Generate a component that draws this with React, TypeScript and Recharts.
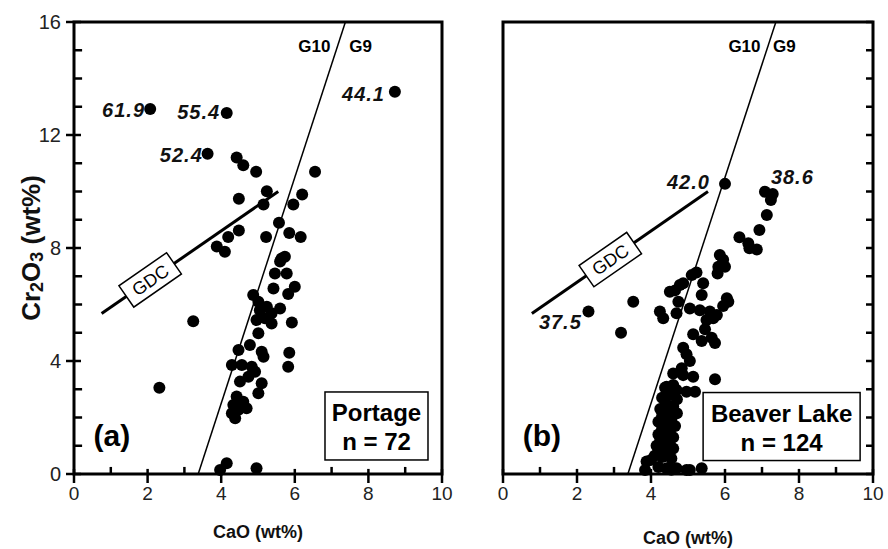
import React from "react";
import {
  ScatterChart,
  Scatter,
  XAxis,
  YAxis,
  ReferenceLine,
  ReferenceDot,
  ReferenceArea,
} from "recharts";

const FONT = '"Liberation Sans", Arial, Helvetica, sans-serif';

// tick values
const xTicks = [0, 1, 2, 3, 4, 5, 6, 7, 8, 9, 10];
const xMajor = [0, 2, 4, 6, 8, 10];
const yTicks = [0, 1, 2, 3, 4, 5, 6, 7, 8, 9, 10, 11, 12, 13, 14, 15, 16];
const yMajor = [0, 4, 8, 12, 16];

// [CaO wt%, Cr2O3 wt%]
const portagePoints = [
  [2.07, 12.92], [4.15, 12.78], [8.72, 13.53], [3.63, 11.34], [4.42, 11.2], [4.6, 10.93],
  [4.95, 10.7], [6.55, 10.7], [5.24, 10.01], [4.48, 9.74], [6.2, 9.89], [5.15, 9.54],
  [5.96, 9.54], [5.57, 8.89], [4.48, 8.62], [4.19, 8.39], [5.22, 8.39], [5.85, 8.53],
  [6.16, 8.39], [3.88, 8.05], [4.1, 7.87], [5.64, 7.63], [5.73, 7.69], [5.6, 7.52],
  [5.46, 7.1], [5.78, 7.1], [5.42, 6.57], [6.0, 6.63], [5.82, 6.37], [4.87, 6.34],
  [5.01, 6.1], [5.24, 5.92], [5.37, 5.69], [5.05, 5.8], [4.96, 5.45], [5.6, 5.86],
  [5.19, 5.51], [5.37, 5.33], [5.92, 5.36], [5.01, 4.98], [3.24, 5.41], [4.78, 4.57],
  [4.47, 4.39], [5.1, 4.33], [5.15, 4.15], [5.85, 4.29], [5.82, 3.8], [4.29, 3.86],
  [4.56, 3.86], [4.83, 3.8], [4.92, 3.62], [4.74, 3.44], [4.51, 3.27], [5.1, 3.21],
  [5.01, 2.86], [4.42, 2.74], [4.6, 2.56], [4.33, 2.44], [4.69, 2.33], [4.47, 2.27],
  [4.29, 2.15], [4.38, 1.97], [2.32, 3.05], [4.15, 0.38], [3.97, 0.14], [4.96, 0.2],
];

const beaverPoints = [
  [6.0, 10.27], [7.08, 9.99], [7.29, 9.91], [7.24, 9.7], [7.13, 9.17], [6.93, 8.64],
  [6.39, 8.38], [6.63, 8.17], [6.66, 7.99], [6.86, 7.95], [5.86, 7.75], [5.95, 7.58],
  [5.82, 7.34], [6.0, 7.34], [5.8, 7.1], [5.23, 7.13], [5.1, 7.04], [4.87, 6.75],
  [4.78, 6.69], [5.41, 6.75], [4.51, 6.45], [4.65, 6.5], [5.37, 6.34], [6.05, 6.22],
  [6.09, 6.1], [5.95, 5.95], [4.74, 6.1], [4.24, 5.75], [4.33, 5.51], [4.69, 5.69],
  [5.05, 5.86], [5.32, 5.8], [5.59, 5.75], [5.78, 5.63], [5.5, 5.45], [5.68, 5.51],
  [5.46, 5.12], [5.14, 4.95], [5.37, 4.71], [5.64, 4.82], [5.73, 4.64], [4.87, 4.47],
  [4.96, 4.24], [5.05, 4.0], [4.83, 3.74], [2.31, 5.75], [3.52, 6.1], [3.19, 5.0],
  [4.6, 3.56], [4.87, 3.5], [5.14, 3.44], [5.73, 3.35], [4.42, 3.09], [4.6, 3.15],
  [4.69, 2.97], [4.96, 2.91], [5.19, 2.91], [4.38, 3.05],
  [4.5, 2.8], [4.3, 2.7], [4.7, 2.65], [4.4, 2.5], [4.6, 2.4], [4.25, 2.3], [4.5, 2.2],
  [4.7, 2.15], [4.3, 2.05], [4.55, 1.95], [4.2, 1.85], [4.45, 1.8], [4.65, 1.7],
  [4.3, 1.6], [4.5, 1.5], [4.2, 1.4], [4.4, 1.35], [4.6, 1.3], [4.25, 1.2], [4.5, 1.1],
  [4.15, 1.0], [4.35, 0.95], [4.6, 0.9], [4.2, 0.8], [4.45, 0.75], [4.1, 0.65],
  [4.3, 0.6], [4.55, 0.55], [4.0, 0.5],
  [3.88, 0.44], [3.84, 0.14], [4.42, 0.2], [4.69, 0.2], [4.96, 0.14], [5.05, 0.14],
  [5.37, 0.2], [4.2, 0.25], [4.55, 0.15],
];

// G10/G9 boundary and graphite-diamond constraint
const g10g9Line = [[3.375, 0], [7.375, 16]];
const gdcLineA = [[0.75, 5.68], [5.55, 10.0]];
const gdcLineB = [[0.78, 5.68], [5.54, 10.0]];

// labelled points: [CaO, Cr2O3, text, anchor]
const notesA: [number, number, string, string][] = [
  [1.93, 12.88, "61.9", "end"],
  [3.97, 12.8, "55.4", "end"],
  [3.5, 11.29, "52.4", "end"],
  [8.45, 13.45, "44.1", "end"],
];
const notesB: [number, number, string, string][] = [
  [5.59, 10.35, "42.0", "end"],
  [7.24, 10.52, "38.6", "start"],
  [0.97, 5.39, "37.5", "start"],
];

const toRows = (pts: number[][]) => pts.map(([x, y]) => ({ cao: x, cr: y }));

const TICK_LINE = { stroke: "#000", strokeWidth: 2.5 };

const XTick = (props: any) => {
  const { x, y, payload } = props;
  return (
    <text x={x} y={y + 17} textAnchor="middle" fontSize={19} fill="#222" fontFamily={FONT}>
      {payload.value}
    </text>
  );
};

const YTickLeft = (props: any) => {
  const { x, y, payload } = props;
  return (
    <text x={x - 5} y={y + 7} textAnchor="end" fontSize={20} fill="#222" fontFamily={FONT}>
      {payload.value}
    </text>
  );
};

const dot = (p: any) => <circle cx={p.cx} cy={p.cy} r={6} fill="#000" />;

const noteShape = (text: string, anchor: string) => (p: any) => (
  <text
    x={p.cx}
    y={p.cy + 7}
    textAnchor={anchor as any}
    fontSize={20}
    letterSpacing={1}
    fontWeight="bold"
    fontStyle="italic"
    fill="#111"
    fontFamily={FONT}
  >
    {text}
  </text>
);

const gdcShape = (p: any) => (
  <g transform={`translate(${p.cx},${p.cy}) rotate(-34.8)`}>
    <rect x={-29} y={-13} width={58} height={26} fill="#fff" stroke="#000" strokeWidth={1.5} />
    <text x={0} y={6.5} textAnchor="middle" fontSize={18} fill="#000" fontFamily={FONT}>
      GDC
    </text>
  </g>
);

const plainText = (text: string, anchor: string, size: number) => (p: any) => (
  <text
    x={p.cx}
    y={p.cy + size * 0.35}
    textAnchor={anchor as any}
    fontSize={size}
    fontWeight="bold"
    fill="#000"
    fontFamily={FONT}
  >
    {text}
  </text>
);

const siteBox = (w: number, line1: string, line2: string) => (p: any) => (
  <g>
    <rect
      x={p.cx - w / 2}
      y={p.cy - 34}
      width={w}
      height={68}
      fill="#fff"
      stroke="#000"
      strokeWidth={1.5}
    />
    <text x={p.cx} y={p.cy - 5} textAnchor="middle" fontSize={24} fontWeight="bold" fontFamily={FONT}>
      {line1}
    </text>
    <text x={p.cx} y={p.cy + 24} textAnchor="middle" fontSize={24} fontWeight="bold" fontFamily={FONT}>
      {line2}
    </text>
  </g>
);

const xTitle = (dy: number) => (props: any) => {
  const vb = props.viewBox;
  return (
    <text
      x={vb.x + vb.width / 2}
      y={vb.y + dy}
      textAnchor="middle"
      fontSize={18}
      fontWeight="bold"
      fill="#111"
      fontFamily={FONT}
    >
      CaO (wt%)
    </text>
  );
};

const yTitle = (props: any) => {
  const vb = props.viewBox;
  const cx = vb.x + 40;
  const cy = vb.y + vb.height / 2;
  return (
    <text
      transform={`translate(${cx},${cy}) rotate(-90)`}
      textAnchor="middle"
      fontSize={26}
      fontWeight="bold"
      fill="#111"
      fontFamily={FONT}
    >
      Cr<tspan fontSize={18} dy={3}>2</tspan>
      <tspan dy={-3}>O</tspan>
      <tspan fontSize={18} dy={3}>3</tspan>
      <tspan dy={-3}> (wt%)</tspan>
    </text>
  );
};

const segment = (pts: number[][]) => pts.map(([x, y]) => ({ x, y }));

// inward tick marks drawn as short reference segments on the frame
const innerTicks = (right: boolean) => (
  <>
    {xTicks.map((v) => (
      <ReferenceLine
        key={`xt${v}`}
        segment={[{ x: v, y: 0 }, { x: v, y: v % 2 === 0 ? 0.18 : 0.25 }]}
        ifOverflow="visible"
        stroke="#000"
        strokeWidth={2.5}
      />
    ))}
    {yTicks.map((v) => (
      <ReferenceLine
        key={`yt${v}`}
        segment={
          right
            ? [{ x: 10, y: v }, { x: 9.81, y: v }]
            : [{ x: 0, y: v }, { x: v % 4 === 0 ? 0.19 : 0.22, y: v }]
        }
        ifOverflow="visible"
        stroke="#000"
        strokeWidth={2.5}
      />
    ))}
  </>
);

export default function App() {
  return (
    <div style={{ position: "absolute", left: 0, top: 0, width: 888, height: 549, background: "#fff" }}>
      <div style={{ position: "absolute", left: 0, top: 0 }}>
        <ScatterChart width={460} height={549} margin={{ top: 22, right: 18, bottom: 0, left: 0 }}>
          <XAxis
            type="number"
            dataKey="cao"
            domain={[0, 10]}
            ticks={xMajor}
            interval={0}
            height={75}
            tickSize={9}
            tickMargin={0}
            axisLine={false}
            tickLine={TICK_LINE}
            tick={<XTick />}
            label={{ content: xTitle(64) }}
          />
          <YAxis
            type="number"
            dataKey="cr"
            domain={[0, 16]}
            ticks={yMajor}
            interval={0}
            width={74}
            tickSize={8}
            tickMargin={0}
            axisLine={false}
            tickLine={TICK_LINE}
            tick={<YTickLeft />}
            label={{ content: yTitle }}
          />
          <ReferenceArea x1={0} x2={10} y1={0} y2={16} fill="none" stroke="#000" strokeWidth={3} />
          {innerTicks(false)}
          <ReferenceLine segment={segment(g10g9Line)} stroke="#000" strokeWidth={1.5} />
          <ReferenceLine segment={segment(gdcLineA)} stroke="#000" strokeWidth={3} />
          <ReferenceDot x={2.07} y={6.87} r={1} shape={gdcShape} />
          <Scatter data={toRows(portagePoints)} shape={dot} isAnimationActive={false} />
          <ReferenceDot x={6.97} y={15.15} r={1} shape={plainText("G10", "end", 17)} />
          <ReferenceDot x={7.48} y={15.15} r={1} shape={plainText("G9", "start", 17)} />
          {notesA.map(([x, y, t, a]) => (
            <ReferenceDot key={t} x={x} y={y} r={1} shape={noteShape(t, a)} />
          ))}
          <ReferenceDot x={1.03} y={1.38} r={1} shape={plainText("(a)", "middle", 30)} />
          <ReferenceDot x={8.22} y={1.7} r={1} shape={siteBox(103, "Portage", "n = 72")} />
        </ScatterChart>
      </div>
      <div style={{ position: "absolute", left: 460, top: 0 }}>
        <ScatterChart width={428} height={549} margin={{ top: 22, right: 0, bottom: 0, left: 43 }}>
          <XAxis
            type="number"
            dataKey="cao"
            domain={[0, 10]}
            ticks={xMajor}
            interval={0}
            height={75}
            tickSize={9}
            tickMargin={0}
            axisLine={false}
            tickLine={TICK_LINE}
            tick={<XTick />}
            label={{ content: xTitle(70) }}
          />
          <YAxis
            type="number"
            dataKey="cr"
            orientation="right"
            domain={[0, 16]}
            ticks={yMajor}
            interval={0}
            width={15}
            tickSize={6}
            tickMargin={0}
            axisLine={false}
            tickLine={TICK_LINE}
            tick={false}
          />
          <ReferenceArea x1={0} x2={10} y1={0} y2={16} fill="none" stroke="#000" strokeWidth={3} />
          {innerTicks(true)}
          <ReferenceLine segment={segment(g10g9Line)} stroke="#000" strokeWidth={1.5} />
          <ReferenceLine segment={segment(gdcLineB)} stroke="#000" strokeWidth={3} />
          <ReferenceDot x={2.9} y={7.59} r={1} shape={gdcShape} />
          <Scatter data={toRows(beaverPoints)} shape={dot} isAnimationActive={false} />
          <ReferenceDot x={6.96} y={15.15} r={1} shape={plainText("G10", "end", 17)} />
          <ReferenceDot x={7.3} y={15.15} r={1} shape={plainText("G9", "start", 17)} />
          {notesB.map(([x, y, t, a]) => (
            <ReferenceDot key={t} x={x} y={y} r={1} shape={noteShape(t, a)} />
          ))}
          <ReferenceDot x={1.05} y={1.38} r={1} shape={plainText("(b)", "middle", 30)} />
          <ReferenceDot x={7.53} y={1.68} r={1} shape={siteBox(157, "Beaver Lake", "n = 124")} />
        </ScatterChart>
      </div>
    </div>
  );
}
